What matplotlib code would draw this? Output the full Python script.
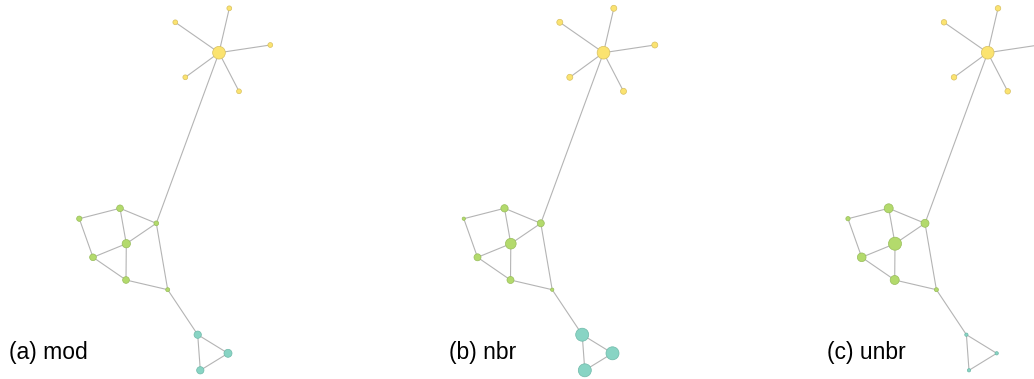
import matplotlib
matplotlib.use("Agg")
import matplotlib.pyplot as plt

# Node layout (shared by all panels), in pixel-like layout units
node_x = [219.0, 229.3, 175.3, 270.3, 185.3, 239.0,
          120.0, 79.3, 156.3, 126.3, 93.0, 126.0, 167.7,
          197.7, 228.0, 200.3]
node_y = [52.7, 8.3, 22.3, 45.0, 77.3, 91.3,
          208.3, 218.7, 223.3, 243.7, 257.3, 280.0, 289.7,
          334.7, 353.3, 370.3]
node_group = ["Y"] * 6 + ["G"] * 7 + ["T"] * 3
edges = [(0, 1), (0, 2), (0, 3), (0, 4), (0, 5), (0, 8),
         (6, 7), (6, 8), (6, 9), (7, 10), (9, 8), (9, 10), (9, 11),
         (10, 11), (11, 12), (8, 12), (12, 13), (13, 14), (13, 15), (14, 15)]

panel_labels = ["(a) mod", "(b) nbr", "(c) unbr"]
# node scores (drawn as node diameter)
score_mod = [12.7, 4.8, 4.8, 4.8, 4.8, 4.8, 6.7, 5.3, 4.7, 8.3, 6.7, 6.7, 4.0, 7.3, 8.0, 7.3]
score_nbr = [12.7, 6.0, 6.0, 6.0, 6.0, 6.0, 7.3, 3.3, 7.0, 10.7, 7.0, 7.0, 3.3, 13.0, 13.0, 13.0]
score_unbr = [12.7, 5.5, 5.5, 5.5, 5.5, 5.5, 9.0, 4.3, 8.0, 13.0, 8.7, 9.0, 4.0, 3.3, 3.3, 3.3]
scores = [score_mod, score_nbr, score_unbr]

panel_offsets = [0.0, 384.5, 768.7]
label_x = [9, 449, 827]

fill = {"Y": "#fbe370", "G": "#b3da6c", "T": "#88d4c4"}
edge_col = {"Y": "#d8c060", "G": "#98bd5a", "T": "#6fb9a9"}

W, H = 1034, 379
fig = plt.figure(figsize=(W / 100, H / 100), dpi=100)
ax = fig.add_axes([0, 0, 1, 1])
ax.set_xlim(0, W)
ax.set_ylim(H, 0)
ax.axis("off")

px2pt = 72 / 100
for p, off in enumerate(panel_offsets):
    xs = [x + off for x in node_x]
    for a, b in edges:
        ax.plot([xs[a], xs[b]], [node_y[a], node_y[b]], color="#b4b4b4",
                lw=0.8, zorder=1, solid_capstyle="round")
    ax.scatter(xs, node_y,
               s=[(d * px2pt) ** 2 for d in scores[p]],
               c=[fill[g] for g in node_group],
               edgecolors=[edge_col[g] for g in node_group],
               linewidths=0.5, zorder=2)
    ax.text(label_x[p], 359, panel_labels[p], fontsize=16.5,
            family=["Liberation Sans", "DejaVu Sans"],
            ha="left", va="baseline", color="black")

fig.savefig("out.png", dpi=100)
